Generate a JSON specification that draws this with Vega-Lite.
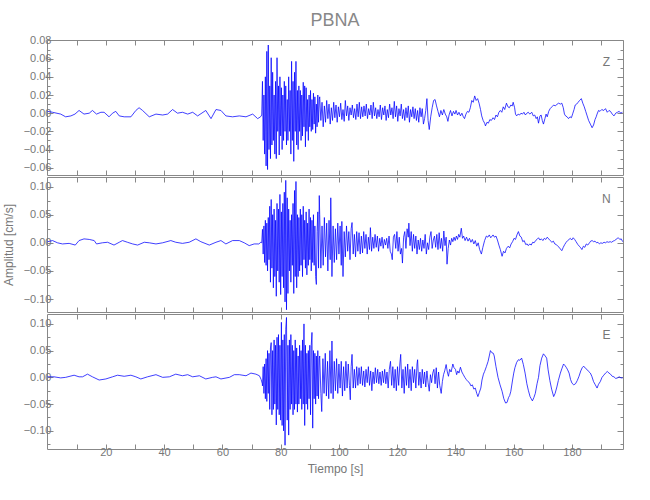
{
"$schema":"https://vega.github.io/schema/vega-lite/v6.json",
"padding":{"left":1,"top":11,"right":5,"bottom":5},
"background":"white",
"spacing":0,
"config":{"view":{"stroke":"#888"},"axis":{"domain":false,"grid":false,"labelColor":"#777","labelFont":"Liberation Sans","labelFontSize":11,"tickColor":"#888","titleColor":"#777","titleFont":"Liberation Sans","titleFontSize":12,"titleFontWeight":"normal","labelPadding":2,"labelOverlap":false,"labelFlush":false}},
"datasets":{
"z":[{"t":0,"v":0.002},{"t":1.7,"v":0.001},{"t":4.5,"v":-0.001},{"t":6.2,"v":-0.004},{"t":8.0,"v":-0.003},{"t":9.4,"v":-0.001},{"t":10.8,"v":0.003},{"t":12.5,"v":-0.001},{"t":14.3,"v":0.0},{"t":15.4,"v":0.003},{"t":16.8,"v":-0.001},{"t":18.3,"v":0.001},{"t":19.4,"v":0.001},{"t":21.1,"v":-0.004},{"t":22.3,"v":0.0},{"t":23.4,"v":0.002},{"t":24.6,"v":-0.003},{"t":26.3,"v":-0.004},{"t":28.6,"v":-0.004},{"t":30.3,"v":0.003},{"t":31.4,"v":0.006},{"t":32.6,"v":0.003},{"t":34.9,"v":-0.004},{"t":37.2,"v":-0.001},{"t":39.5,"v":-0.002},{"t":41.2,"v":-0.001},{"t":42.9,"v":0.004},{"t":44.6,"v":0.0},{"t":46.3,"v":0.001},{"t":48.1,"v":-0.001},{"t":49.8,"v":0.001},{"t":51.5,"v":-0.003},{"t":54.3,"v":0.003},{"t":56.1,"v":-0.006},{"t":57.8,"v":0.004},{"t":59.5,"v":0.003},{"t":61.2,"v":-0.003},{"t":63.5,"v":-0.004},{"t":65.8,"v":-0.003},{"t":68.1,"v":-0.004},{"t":70.4,"v":-0.001},{"t":72.1,"v":-0.006},{"t":73.1,"v":-0.004},
{"t":73.5,"v":-0.002},{"t":73.75,"v":0.035},{"t":74.0,"v":-0.03},{"t":74.25,"v":0.02},{"t":74.5,"v":-0.045},{"t":74.75,"v":0.04},{"t":75.0,"v":-0.058},{"t":75.25,"v":0.068},{"t":75.5,"v":-0.062},{"t":75.75,"v":0.075},{"t":76.0,"v":-0.04},{"t":76.25,"v":0.03},{"t":76.5,"v":-0.05},{"t":76.75,"v":0.061},{"t":77.0,"v":-0.035},{"t":77.25,"v":0.045},{"t":77.5,"v":-0.03},{"t":77.75,"v":0.02},{"t":78.0,"v":-0.045},{"t":78.25,"v":0.035},{"t":78.5,"v":-0.05},{"t":78.75,"v":0.061},{"t":79.0,"v":-0.02},{"t":79.25,"v":0.03},{"t":79.5,"v":-0.046},{"t":79.75,"v":0.04},{"t":80.0,"v":-0.025},{"t":80.25,"v":0.028},{"t":80.5,"v":-0.04},{"t":80.75,"v":0.02},{"t":81.0,"v":-0.03},{"t":81.25,"v":0.035},{"t":81.5,"v":-0.02},{"t":81.75,"v":0.03},{"t":82.0,"v":-0.035},{"t":82.25,"v":0.015},{"t":82.5,"v":-0.03},{"t":82.75,"v":0.04},{"t":83.0,"v":-0.02},{"t":83.25,"v":0.025},{"t":83.5,"v":-0.045},{"t":83.75,"v":0.057},{"t":84.0,"v":-0.03},{"t":84.25,"v":0.035},{"t":84.5,"v":-0.053},{"t":84.75,"v":0.045},{"t":85.0,"v":-0.02},{"t":85.25,"v":0.057},{"t":85.5,"v":-0.035},{"t":85.75,"v":0.025},{"t":86.0,"v":-0.04},{"t":86.25,"v":0.03},{"t":86.5,"v":-0.02},{"t":86.75,"v":0.025},{"t":87.0,"v":-0.03},{"t":87.25,"v":0.02},{"t":87.5,"v":-0.025},{"t":87.75,"v":0.034},{"t":88.0,"v":-0.015},{"t":88.25,"v":0.03},{"t":88.5,"v":-0.037},{"t":88.75,"v":0.028},{"t":89.0,"v":-0.02},{"t":89.25,"v":0.015},{"t":89.5,"v":-0.03},{"t":89.75,"v":0.02},{"t":90.0,"v":-0.015},{"t":90.25,"v":0.025},{"t":90.5,"v":-0.02},{"t":90.75,"v":0.015},{"t":91.0,"v":-0.018},{"t":91.25,"v":0.022},{"t":91.5,"v":-0.012},{"t":91.75,"v":0.018},{"t":92.0,"v":-0.022},{"t":92.25,"v":0.01},{"t":92.5,"v":-0.015},{"t":92.75,"v":0.02},{"t":93.0,"v":-0.01},{"t":93.25,"v":0.015},
{"t":93.4,"v":0.018},{"t":93.8,"v":-0.008},{"t":94.2,"v":0.012},{"t":94.6,"v":-0.015},{"t":95.0,"v":0.008},{"t":95.4,"v":-0.01},{"t":95.8,"v":0.014},{"t":96.2,"v":-0.006},{"t":96.6,"v":0.01},{"t":97.0,"v":-0.012},{"t":97.4,"v":0.006},{"t":97.8,"v":-0.008},{"t":98.2,"v":0.012},{"t":98.6,"v":-0.005},{"t":99.0,"v":0.009},{"t":99.4,"v":-0.01},{"t":99.8,"v":0.007},{"t":100.2,"v":-0.004},{"t":100.6,"v":0.011},{"t":101.0,"v":-0.007},{"t":101.4,"v":0.004},{"t":101.8,"v":-0.009},{"t":102.2,"v":0.014},{"t":102.6,"v":-0.003},{"t":103.0,"v":0.008},{"t":103.4,"v":-0.008},{"t":103.8,"v":0.006},{"t":104.2,"v":-0.002},{"t":104.6,"v":0.009},{"t":105.0,"v":-0.005},{"t":105.4,"v":0.005},{"t":105.8,"v":-0.007},{"t":106.2,"v":0.01},{"t":106.6,"v":-0.004},{"t":107.0,"v":0.012},{"t":107.4,"v":-0.006},{"t":107.8,"v":0.007},{"t":108.2,"v":-0.004},{"t":108.6,"v":0.008},{"t":109.0,"v":-0.003},{"t":109.4,"v":0.01},{"t":109.8,"v":-0.006},{"t":110.2,"v":0.005},{"t":110.6,"v":-0.002},{"t":111.0,"v":0.009},{"t":111.4,"v":-0.006},{"t":111.8,"v":0.012},{"t":112.2,"v":-0.003},{"t":112.6,"v":0.006},{"t":113.0,"v":-0.006},{"t":113.4,"v":0.004},{"t":113.8,"v":-0.004},{"t":114.2,"v":0.009},{"t":114.6,"v":-0.007},{"t":115.0,"v":0.006},{"t":115.4,"v":-0.002},{"t":115.8,"v":0.008},{"t":116.2,"v":-0.008},{"t":116.6,"v":0.004},{"t":117.0,"v":-0.005},{"t":117.4,"v":0.01},{"t":117.8,"v":-0.002},{"t":118.2,"v":0.006},{"t":118.6,"v":-0.006},{"t":119.0,"v":0.013},{"t":119.4,"v":-0.004},{"t":119.8,"v":0.008},{"t":120.2,"v":-0.009},{"t":120.6,"v":0.005},{"t":121.0,"v":-0.003},{"t":121.4,"v":0.01},{"t":121.8,"v":-0.006},{"t":122.2,"v":0.004},{"t":122.6,"v":-0.008},{"t":123.0,"v":0.006},{"t":123.4,"v":-0.005},{"t":123.8,"v":0.008},{"t":124.2,"v":-0.01},{"t":124.6,"v":0.004},{"t":125.0,"v":-0.004},{"t":125.4,"v":0.007},{"t":125.8,"v":-0.006},{"t":126.2,"v":0.005},{"t":126.6,"v":-0.008},{"t":127.0,"v":0.003},{"t":127.4,"v":-0.01},{"t":127.8,"v":0.006},{"t":128.2,"v":-0.004},{"t":128.6,"v":0.005},{"t":129.0,"v":-0.012},{"t":129.4,"v":-0.006},{"t":129.8,"v":0.003},{"t":130.2,"v":0.016},{"t":130.6,"v":-0.008},{"t":131.0,"v":-0.018},{"t":131.5,"v":-0.004},{"t":132.0,"v":0.006},{"t":132.5,"v":0.014},{"t":133.0,"v":0.015},{"t":133.5,"v":0.008},{"t":134.0,"v":0.002},{"t":134.5,"v":-0.004},{"t":135.0,"v":0.003},{"t":135.5,"v":-0.002},{"t":136.0,"v":0.004},{"t":136.5,"v":-0.001},{"t":137.0,"v":-0.004},{"t":137.4,"v":-0.009},{"t":137.8,"v":-0.002},{"t":138.3,"v":0.003},{"t":138.8,"v":-0.003},{"t":139.3,"v":0.002},{"t":139.8,"v":-0.001},{"t":140.2,"v":0.003},{"t":140.7,"v":-0.002},{"t":141.2,"v":0.001},{"t":141.7,"v":-0.003},{"t":142.2,"v":0.0},{"t":142.7,"v":-0.004},{"t":143.1,"v":-0.006},{"t":143.6,"v":-0.001},{"t":144.1,"v":0.002},{"t":144.6,"v":0.001},{"t":145.1,"v":0.006},{"t":145.6,"v":0.014},{"t":146.1,"v":0.012},{"t":146.6,"v":0.019},{"t":147.1,"v":0.014},{"t":147.6,"v":0.016},{"t":148.1,"v":0.011},{"t":148.6,"v":0.004},{"t":149.0,"v":-0.003},{"t":149.5,"v":-0.008},{"t":150.0,"v":-0.011},{"t":150.3,"v":-0.014},{"t":150.8,"v":-0.01},{"t":151.3,"v":-0.011},{"t":151.8,"v":-0.007},{"t":152.3,"v":-0.008},{"t":152.9,"v":-0.005},{"t":153.4,"v":-0.007},{"t":153.9,"v":-0.002},{"t":154.4,"v":-0.004},{"t":154.9,"v":0.001},{"t":155.4,"v":0.003},{"t":155.9,"v":0.001},{"t":156.4,"v":0.007},{"t":156.9,"v":0.004},{"t":157.5,"v":0.011},{"t":158.0,"v":0.007},{"t":158.5,"v":0.006},{"t":159.0,"v":0.009},{"t":159.5,"v":0.008},{"t":159.8,"v":0.012},{"t":160.3,"v":0.006},{"t":160.6,"v":-0.001},{"t":161.0,"v":-0.003},{"t":161.5,"v":-0.001},{"t":162.0,"v":-0.002},{"t":162.5,"v":0.0},{"t":163.0,"v":-0.001},{"t":163.5,"v":0.001},{"t":164.0,"v":-0.002},{"t":164.5,"v":0.0},{"t":165.0,"v":0.001},{"t":165.5,"v":-0.001},{"t":166.2,"v":0.001},{"t":166.7,"v":-0.003},{"t":167.2,"v":-0.002},{"t":167.7,"v":-0.006},{"t":168.1,"v":-0.004},{"t":168.5,"v":-0.011},{"t":169.0,"v":-0.003},{"t":169.4,"v":-0.002},{"t":169.8,"v":-0.008},{"t":170.2,"v":-0.012},{"t":170.7,"v":-0.006},{"t":171.1,"v":-0.001},{"t":171.5,"v":-0.004},{"t":172.0,"v":0.002},{"t":172.5,"v":0.005},{"t":173.1,"v":0.007},{"t":173.7,"v":0.009},{"t":174.3,"v":0.008},{"t":174.9,"v":0.01},{"t":175.4,"v":0.011},{"t":176.0,"v":0.01},{"t":176.5,"v":0.011},{"t":177.0,"v":0.006},{"t":177.4,"v":-0.001},{"t":177.8,"v":-0.003},{"t":178.3,"v":-0.004},{"t":178.8,"v":-0.006},{"t":179.3,"v":-0.004},{"t":179.8,"v":-0.005},{"t":180.3,"v":0.0},{"t":180.7,"v":0.004},{"t":181.1,"v":0.009},{"t":181.6,"v":0.01},{"t":182.1,"v":0.012},{"t":182.6,"v":0.014},{"t":183.2,"v":0.016},{"t":183.7,"v":0.011},{"t":184.2,"v":0.007},{"t":184.7,"v":0.002},{"t":185.2,"v":-0.003},{"t":185.7,"v":-0.008},{"t":186.3,"v":-0.012},{"t":186.9,"v":-0.016},{"t":187.4,"v":-0.013},{"t":187.9,"v":-0.007},{"t":188.3,"v":-0.004},{"t":188.6,"v":-0.001},{"t":189.1,"v":0.003},{"t":189.6,"v":0.002},{"t":190.2,"v":0.004},{"t":190.9,"v":0.003},{"t":191.5,"v":0.005},{"t":192.1,"v":0.001},{"t":192.7,"v":0.003},{"t":193.2,"v":0.002},{"t":193.8,"v":-0.001},{"t":194.4,"v":-0.003},{"t":195.0,"v":0.0},{"t":195.6,"v":0.001},{"t":196.2,"v":0.002},{"t":196.7,"v":0.0},{"t":197.3,"v":0.001}],
"n":[{"t":0,"v":0.002},{"t":1.7,"v":0.004},{"t":3.4,"v":0.0},{"t":5.1,"v":-0.002},{"t":7.4,"v":-0.001},{"t":9.5,"v":-0.004},{"t":10.8,"v":0.004},{"t":12.5,"v":0.007},{"t":14.3,"v":0.006},{"t":16.0,"v":0.004},{"t":16.8,"v":-0.002},{"t":18.8,"v":0.0},{"t":20.6,"v":0.001},{"t":22.8,"v":-0.004},{"t":24.6,"v":0.001},{"t":25.7,"v":0.004},{"t":27.4,"v":0.001},{"t":29.2,"v":-0.002},{"t":30.9,"v":-0.004},{"t":33.2,"v":0.001},{"t":34.9,"v":0.0},{"t":37.2,"v":-0.002},{"t":39.5,"v":0.0},{"t":42.3,"v":0.004},{"t":44.0,"v":0.001},{"t":46.3,"v":-0.001},{"t":48.6,"v":0.001},{"t":50.9,"v":0.007},{"t":52.6,"v":0.002},{"t":55.5,"v":-0.004},{"t":57.8,"v":0.001},{"t":59.5,"v":0.004},{"t":61.2,"v":-0.002},{"t":63.5,"v":0.004},{"t":65.8,"v":0.004},{"t":67.5,"v":0.0},{"t":69.2,"v":-0.005},{"t":70.9,"v":-0.002},{"t":72.5,"v":-0.002},{"t":73.2,"v":0.001},
{"t":73.5,"v":0.0},{"t":73.75,"v":0.024},{"t":74.0,"v":-0.02},{"t":74.25,"v":0.03},{"t":74.5,"v":-0.035},{"t":74.75,"v":0.04},{"t":75.0,"v":-0.04},{"t":75.25,"v":0.035},{"t":75.5,"v":-0.05},{"t":75.75,"v":0.045},{"t":76.0,"v":-0.03},{"t":76.25,"v":0.065},{"t":76.5,"v":-0.07},{"t":76.75,"v":0.077},{"t":77.0,"v":-0.045},{"t":77.25,"v":0.05},{"t":77.5,"v":-0.08},{"t":77.75,"v":0.06},{"t":78.0,"v":-0.06},{"t":78.25,"v":0.04},{"t":78.5,"v":-0.095},{"t":78.75,"v":0.07},{"t":79.0,"v":-0.05},{"t":79.25,"v":0.06},{"t":79.5,"v":-0.07},{"t":79.75,"v":0.086},{"t":80.0,"v":-0.092},{"t":80.25,"v":0.055},{"t":80.5,"v":-0.06},{"t":80.75,"v":0.07},{"t":81.0,"v":-0.08},{"t":81.25,"v":0.09},{"t":81.5,"v":-0.105},{"t":81.75,"v":0.111},{"t":82.0,"v":-0.119},{"t":82.25,"v":0.08},{"t":82.5,"v":-0.09},{"t":82.75,"v":0.06},{"t":83.0,"v":-0.05},{"t":83.25,"v":0.04},{"t":83.5,"v":-0.07},{"t":83.75,"v":0.05},{"t":84.0,"v":-0.04},{"t":84.25,"v":0.07},{"t":84.5,"v":-0.09},{"t":84.75,"v":0.093},{"t":85.0,"v":-0.06},{"t":85.25,"v":0.109},{"t":85.5,"v":-0.08},{"t":85.75,"v":0.05},{"t":86.0,"v":-0.06},{"t":86.25,"v":0.045},{"t":86.5,"v":-0.05},{"t":86.75,"v":0.06},{"t":87.0,"v":-0.04},{"t":87.25,"v":0.05},{"t":87.5,"v":-0.06},{"t":87.75,"v":0.065},{"t":88.0,"v":-0.03},{"t":88.25,"v":0.04},{"t":88.5,"v":-0.045},{"t":88.75,"v":0.055},{"t":89.0,"v":-0.057},{"t":89.25,"v":0.035},{"t":89.5,"v":-0.04},{"t":89.75,"v":0.06},{"t":90.0,"v":-0.03},{"t":90.25,"v":0.045},{"t":90.5,"v":-0.05},{"t":90.75,"v":0.04},{"t":91.0,"v":-0.035},{"t":91.25,"v":0.05},{"t":91.5,"v":-0.04},{"t":91.75,"v":0.03},{"t":92.0,"v":-0.06},{"t":92.25,"v":-0.074},{"t":92.5,"v":0.02},{"t":92.75,"v":0.055},{"t":93.0,"v":-0.045},{"t":93.25,"v":0.084},
{"t":93.4,"v":0.05},{"t":93.8,"v":-0.045},{"t":94.2,"v":0.03},{"t":94.6,"v":-0.04},{"t":95.0,"v":0.045},{"t":95.4,"v":-0.025},{"t":95.8,"v":0.035},{"t":96.2,"v":-0.05},{"t":96.6,"v":0.04},{"t":97.0,"v":-0.03},{"t":97.2,"v":0.08},{"t":97.6,"v":-0.06},{"t":98.0,"v":0.03},{"t":98.4,"v":-0.035},{"t":98.8,"v":0.025},{"t":99.2,"v":-0.03},{"t":99.6,"v":0.035},{"t":100.0,"v":-0.02},{"t":100.4,"v":0.03},{"t":100.8,"v":-0.04},{"t":101.0,"v":0.038},{"t":101.4,"v":-0.06},{"t":101.8,"v":0.02},{"t":102.2,"v":-0.025},{"t":102.6,"v":0.03},{"t":103.0,"v":-0.015},{"t":103.4,"v":0.02},{"t":103.8,"v":-0.03},{"t":104.2,"v":0.025},{"t":104.5,"v":0.036},{"t":104.9,"v":-0.02},{"t":105.3,"v":0.015},{"t":105.7,"v":-0.025},{"t":106.1,"v":0.02},{"t":106.5,"v":-0.015},{"t":106.9,"v":0.018},{"t":107.3,"v":-0.02},{"t":107.7,"v":0.012},{"t":108.1,"v":-0.018},{"t":108.5,"v":0.02},{"t":108.9,"v":-0.01},{"t":109.3,"v":0.015},{"t":109.7,"v":-0.02},{"t":110.1,"v":0.01},{"t":110.5,"v":-0.012},{"t":110.8,"v":0.027},{"t":111.2,"v":-0.015},{"t":111.6,"v":0.01},{"t":112.0,"v":-0.01},{"t":112.4,"v":0.015},{"t":112.8,"v":-0.008},{"t":113.2,"v":0.012},{"t":113.6,"v":-0.015},{"t":114.0,"v":0.008},{"t":114.4,"v":-0.006},{"t":114.8,"v":0.01},{"t":115.2,"v":-0.01},{"t":115.6,"v":0.006},{"t":116.0,"v":-0.004},{"t":116.4,"v":0.008},{"t":116.8,"v":-0.01},{"t":117.2,"v":0.012},{"t":117.6,"v":-0.015},{"t":118.0,"v":-0.02},{"t":118.3,"v":-0.03},{"t":118.7,"v":0.01},{"t":119.1,"v":0.015},{"t":119.5,"v":-0.01},{"t":119.9,"v":0.02},{"t":120.3,"v":-0.015},{"t":120.7,"v":0.01},{"t":121.1,"v":-0.02},{"t":121.5,"v":-0.01},{"t":121.8,"v":-0.036},{"t":122.2,"v":0.01},{"t":122.6,"v":0.02},{"t":123.0,"v":-0.01},{"t":123.4,"v":0.025},{"t":123.8,"v":0.01},{"t":124.0,"v":0.035},{"t":124.4,"v":-0.005},{"t":124.8,"v":0.02},{"t":125.2,"v":-0.015},{"t":125.6,"v":0.015},{"t":126.0,"v":-0.01},{"t":126.4,"v":0.012},{"t":126.8,"v":-0.02},{"t":127.2,"v":0.005},{"t":127.6,"v":-0.012},{"t":128.0,"v":0.008},{"t":128.4,"v":-0.015},{"t":128.8,"v":0.005},{"t":129.2,"v":-0.01},{"t":129.6,"v":0.015},{"t":130.0,"v":-0.02},{"t":130.4,"v":0.0},{"t":130.8,"v":-0.012},{"t":131.2,"v":0.01},{"t":131.6,"v":0.02},{"t":132.0,"v":-0.01},{"t":132.4,"v":0.005},{"t":132.8,"v":0.012},{"t":133.2,"v":-0.008},{"t":133.6,"v":0.015},{"t":134.0,"v":-0.012},{"t":134.4,"v":0.018},{"t":134.8,"v":-0.01},{"t":135.2,"v":0.008},{"t":135.6,"v":-0.015},{"t":136.0,"v":0.021},{"t":136.4,"v":-0.005},{"t":136.8,"v":0.01},{"t":137.1,"v":-0.038},{"t":137.5,"v":-0.01},{"t":137.9,"v":0.005},{"t":138.3,"v":-0.004},{"t":138.7,"v":0.008},{"t":139.1,"v":0.002},{"t":139.5,"v":0.01},{"t":139.9,"v":0.004},{"t":140.3,"v":0.012},{"t":140.7,"v":0.006},{"t":141.1,"v":0.015},{"t":141.5,"v":0.01},{"t":142.0,"v":0.026},{"t":142.4,"v":0.008},{"t":142.8,"v":0.012},{"t":143.3,"v":0.004},{"t":143.8,"v":0.01},{"t":144.3,"v":0.003},{"t":144.8,"v":0.008},{"t":145.3,"v":0.001},{"t":145.8,"v":0.006},{"t":146.3,"v":-0.002},{"t":146.8,"v":0.004},{"t":147.3,"v":-0.006},{"t":147.8,"v":0.0},{"t":148.3,"v":-0.012},{"t":148.9,"v":-0.02},{"t":149.4,"v":-0.008},{"t":150.0,"v":0.004},{"t":150.6,"v":0.012},{"t":151.1,"v":0.01},{"t":151.6,"v":0.014},{"t":152.1,"v":0.009},{"t":152.9,"v":0.014},{"t":153.4,"v":0.01},{"t":153.9,"v":0.012},{"t":154.4,"v":0.005},{"t":154.9,"v":-0.004},{"t":155.4,"v":-0.012},{"t":156.0,"v":-0.024},{"t":156.5,"v":-0.015},{"t":157.0,"v":-0.018},{"t":157.5,"v":-0.01},{"t":158.1,"v":-0.006},{"t":158.6,"v":-0.009},{"t":159.1,"v":-0.002},{"t":159.6,"v":0.002},{"t":160.1,"v":0.008},{"t":160.6,"v":0.006},{"t":161.1,"v":0.014},{"t":161.6,"v":0.02},{"t":162.1,"v":0.012},{"t":162.6,"v":0.01},{"t":163.1,"v":0.002},{"t":163.6,"v":0.004},{"t":164.1,"v":-0.003},{"t":164.6,"v":-0.002},{"t":165.0,"v":-0.005},{"t":165.5,"v":-0.002},{"t":166.0,"v":-0.004},{"t":166.5,"v":0.001},{"t":167.0,"v":0.0},{"t":167.5,"v":0.004},{"t":168.0,"v":0.006},{"t":168.5,"v":0.009},{"t":169.0,"v":0.005},{"t":169.5,"v":0.007},{"t":170.0,"v":0.004},{"t":170.5,"v":0.008},{"t":171.0,"v":0.006},{"t":171.5,"v":0.01},{"t":172.0,"v":0.007},{"t":172.5,"v":0.004},{"t":173.1,"v":0.001},{"t":173.6,"v":0.003},{"t":174.1,"v":-0.002},{"t":174.6,"v":-0.003},{"t":175.1,"v":-0.006},{"t":175.6,"v":-0.008},{"t":176.0,"v":-0.011},{"t":176.5,"v":-0.014},{"t":177.0,"v":-0.008},{"t":177.5,"v":-0.003},{"t":178.0,"v":0.001},{"t":178.5,"v":0.004},{"t":179.0,"v":0.006},{"t":179.4,"v":0.008},{"t":179.9,"v":0.005},{"t":180.4,"v":0.009},{"t":180.9,"v":0.006},{"t":181.4,"v":0.002},{"t":182.0,"v":-0.003},{"t":182.5,"v":-0.006},{"t":183.0,"v":-0.009},{"t":183.4,"v":-0.012},{"t":183.9,"v":-0.006},{"t":184.4,"v":-0.008},{"t":184.9,"v":-0.002},{"t":185.4,"v":-0.004},{"t":186.0,"v":0.0},{"t":186.4,"v":0.003},{"t":186.9,"v":0.004},{"t":187.4,"v":0.002},{"t":187.9,"v":0.003},{"t":188.4,"v":0.0},{"t":188.9,"v":0.001},{"t":189.4,"v":-0.002},{"t":189.9,"v":0.0},{"t":190.4,"v":-0.001},{"t":191.0,"v":0.001},{"t":191.5,"v":0.0},{"t":192.0,"v":0.002},{"t":192.5,"v":0.001},{"t":193.1,"v":0.002},{"t":193.6,"v":0.001},{"t":194.1,"v":0.003},{"t":194.6,"v":0.004},{"t":195.1,"v":0.006},{"t":195.6,"v":0.008},{"t":195.9,"v":0.009},{"t":196.4,"v":0.006},{"t":196.9,"v":0.007},{"t":197.4,"v":0.002}],
"e":[{"t":0,"v":0.001},{"t":2.2,"v":0.001},{"t":4.5,"v":-0.001},{"t":6.2,"v":0.0},{"t":9.1,"v":0.004},{"t":10.8,"v":0.001},{"t":12.0,"v":0.001},{"t":13.7,"v":0.006},{"t":15.4,"v":0.001},{"t":17.7,"v":-0.005},{"t":20.0,"v":-0.003},{"t":22.3,"v":0.001},{"t":24.0,"v":0.004},{"t":26.3,"v":0.002},{"t":28.6,"v":0.004},{"t":30.3,"v":0.001},{"t":32.0,"v":-0.003},{"t":34.3,"v":0.001},{"t":37.2,"v":0.005},{"t":39.5,"v":0.0},{"t":41.8,"v":0.001},{"t":44.0,"v":0.006},{"t":46.3,"v":0.003},{"t":48.1,"v":0.005},{"t":49.8,"v":0.001},{"t":52.1,"v":0.003},{"t":54.3,"v":-0.003},{"t":56.6,"v":0.0},{"t":57.8,"v":0.001},{"t":59.5,"v":-0.003},{"t":62.4,"v":0.0},{"t":64.1,"v":0.005},{"t":65.8,"v":0.005},{"t":68.1,"v":0.003},{"t":69.8,"v":0.008},{"t":71.5,"v":0.006},{"t":72.7,"v":0.003},{"t":73.3,"v":-0.004},{"t":73.7,"v":-0.012},
{"t":73.75,"v":-0.016},{"t":74.0,"v":0.02},{"t":74.25,"v":-0.03},{"t":74.5,"v":0.025},{"t":74.75,"v":-0.04},{"t":75.0,"v":0.035},{"t":75.25,"v":-0.045},{"t":75.5,"v":0.05},{"t":75.75,"v":-0.03},{"t":76.0,"v":0.045},{"t":76.25,"v":-0.06},{"t":76.5,"v":0.055},{"t":76.75,"v":0.065},{"t":77.0,"v":-0.07},{"t":77.25,"v":0.05},{"t":77.5,"v":-0.06},{"t":77.75,"v":0.07},{"t":78.0,"v":-0.05},{"t":78.25,"v":0.06},{"t":78.5,"v":-0.089},{"t":78.75,"v":0.075},{"t":79.0,"v":-0.06},{"t":79.25,"v":0.08},{"t":79.5,"v":-0.07},{"t":79.75,"v":0.06},{"t":80.0,"v":-0.08},{"t":80.25,"v":0.103},{"t":80.5,"v":-0.09},{"t":80.75,"v":0.07},{"t":81.0,"v":-0.1},{"t":81.25,"v":0.08},{"t":81.5,"v":-0.127},{"t":81.75,"v":0.09},{"t":82.0,"v":0.112},{"t":82.25,"v":-0.08},{"t":82.5,"v":0.06},{"t":82.75,"v":-0.108},{"t":83.0,"v":0.07},{"t":83.25,"v":-0.06},{"t":83.5,"v":0.08},{"t":83.75,"v":-0.05},{"t":84.0,"v":0.06},{"t":84.25,"v":-0.07},{"t":84.5,"v":0.05},{"t":84.75,"v":-0.06},{"t":85.0,"v":0.07},{"t":85.25,"v":-0.05},{"t":85.5,"v":0.055},{"t":85.75,"v":-0.065},{"t":86.0,"v":0.04},{"t":86.25,"v":-0.05},{"t":86.5,"v":0.06},{"t":86.75,"v":-0.04},{"t":87.0,"v":0.05},{"t":87.25,"v":-0.06},{"t":87.5,"v":0.07},{"t":87.75,"v":-0.05},{"t":88.0,"v":0.1},{"t":88.25,"v":-0.09},{"t":88.5,"v":0.06},{"t":88.75,"v":-0.05},{"t":89.0,"v":0.045},{"t":89.25,"v":-0.06},{"t":89.5,"v":0.05},{"t":89.75,"v":-0.04},{"t":90.0,"v":0.06},{"t":90.25,"v":-0.07},{"t":90.5,"v":0.06},{"t":90.75,"v":0.084},{"t":91.0,"v":-0.095},{"t":91.25,"v":0.05},{"t":91.5,"v":-0.04},{"t":91.75,"v":0.045},{"t":92.0,"v":-0.05},{"t":92.25,"v":0.04},{"t":92.5,"v":-0.035},{"t":92.75,"v":0.05},{"t":93.0,"v":-0.04},{"t":93.25,"v":0.035},
{"t":93.4,"v":0.04},{"t":93.8,"v":-0.03},{"t":94.1,"v":-0.064},{"t":94.5,"v":0.035},{"t":94.9,"v":-0.03},{"t":95.3,"v":0.045},{"t":95.7,"v":-0.035},{"t":96.1,"v":0.03},{"t":96.5,"v":-0.04},{"t":96.9,"v":0.05},{"t":97.3,"v":-0.03},{"t":97.6,"v":0.068},{"t":98.0,"v":-0.04},{"t":98.4,"v":0.03},{"t":98.8,"v":-0.025},{"t":99.2,"v":0.035},{"t":99.6,"v":-0.03},{"t":100.0,"v":0.025},{"t":100.4,"v":-0.02},{"t":100.8,"v":0.03},{"t":101.2,"v":-0.035},{"t":101.6,"v":0.02},{"t":102.0,"v":-0.025},{"t":102.4,"v":0.03},{"t":102.8,"v":-0.02},{"t":103.2,"v":0.025},{"t":103.6,"v":-0.015},{"t":103.9,"v":-0.042},{"t":104.2,"v":0.02},{"t":104.5,"v":0.043},{"t":104.9,"v":-0.02},{"t":105.3,"v":0.015},{"t":105.7,"v":-0.02},{"t":106.1,"v":0.02},{"t":106.5,"v":-0.015},{"t":106.9,"v":0.018},{"t":107.3,"v":-0.012},{"t":107.7,"v":0.02},{"t":108.1,"v":-0.015},{"t":108.5,"v":0.012},{"t":108.9,"v":-0.018},{"t":109.3,"v":0.015},{"t":109.7,"v":-0.01},{"t":110.1,"v":0.02},{"t":110.5,"v":-0.015},{"t":110.9,"v":0.012},{"t":111.3,"v":-0.025},{"t":111.7,"v":0.01},{"t":112.1,"v":-0.012},{"t":112.5,"v":0.018},{"t":112.9,"v":-0.01},{"t":113.3,"v":0.015},{"t":113.7,"v":-0.012},{"t":114.1,"v":0.01},{"t":114.5,"v":-0.015},{"t":114.9,"v":0.012},{"t":115.3,"v":-0.01},{"t":115.7,"v":0.015},{"t":116.1,"v":-0.012},{"t":116.5,"v":0.01},{"t":116.9,"v":-0.02},{"t":117.3,"v":0.015},{"t":117.7,"v":0.03},{"t":118.1,"v":-0.015},{"t":118.5,"v":0.02},{"t":118.9,"v":-0.02},{"t":119.3,"v":0.015},{"t":119.7,"v":-0.025},{"t":120.1,"v":0.02},{"t":120.5,"v":-0.015},{"t":120.9,"v":0.025},{"t":121.2,"v":0.043},{"t":121.6,"v":-0.02},{"t":122.0,"v":0.015},{"t":122.4,"v":-0.03},{"t":122.8,"v":0.02},{"t":123.2,"v":-0.015},{"t":123.6,"v":0.025},{"t":124.0,"v":-0.02},{"t":124.4,"v":0.015},{"t":124.8,"v":-0.025},{"t":125.2,"v":0.02},{"t":125.6,"v":-0.01},{"t":126.0,"v":0.015},{"t":126.4,"v":-0.02},{"t":126.8,"v":0.025},{"t":127.0,"v":0.033},{"t":127.4,"v":-0.015},{"t":127.8,"v":0.01},{"t":128.2,"v":-0.02},{"t":128.6,"v":0.015},{"t":129.0,"v":-0.012},{"t":129.4,"v":0.01},{"t":129.8,"v":-0.018},{"t":130.2,"v":0.012},{"t":130.6,"v":-0.01},{"t":131.0,"v":-0.026},{"t":131.4,"v":0.005},{"t":131.8,"v":-0.01},{"t":132.2,"v":0.008},{"t":132.6,"v":0.015},{"t":133.0,"v":-0.012},{"t":133.4,"v":0.018},{"t":133.8,"v":-0.02},{"t":134.2,"v":0.01},{"t":134.6,"v":-0.015},{"t":135.1,"v":-0.03},{"t":135.5,"v":-0.008},{"t":135.9,"v":0.005},{"t":136.3,"v":0.012},{"t":136.8,"v":0.024},{"t":137.2,"v":0.01},{"t":137.6,"v":0.002},{"t":138.0,"v":0.015},{"t":138.5,"v":0.01},{"t":139.1,"v":0.025},{"t":139.5,"v":0.018},{"t":140.0,"v":0.015},{"t":140.4,"v":0.005},{"t":140.8,"v":0.012},{"t":141.2,"v":0.008},{"t":141.7,"v":0.019},{"t":142.2,"v":0.01},{"t":142.7,"v":0.005},{"t":143.2,"v":0.0},{"t":143.7,"v":-0.004},{"t":144.3,"v":-0.008},{"t":144.8,"v":-0.01},{"t":145.3,"v":-0.016},{"t":145.8,"v":-0.014},{"t":146.3,"v":-0.022},{"t":146.8,"v":-0.02},{"t":147.3,"v":-0.03},{"t":147.7,"v":-0.036},{"t":148.2,"v":-0.028},{"t":148.7,"v":-0.02},{"t":149.1,"v":-0.005},{"t":149.6,"v":0.006},{"t":150.0,"v":0.011},{"t":150.6,"v":0.02},{"t":151.2,"v":0.03},{"t":151.6,"v":0.04},{"t":152.0,"v":0.05},{"t":152.5,"v":0.046},{"t":153.0,"v":0.045},{"t":153.3,"v":0.04},{"t":153.9,"v":0.02},{"t":154.6,"v":0.0},{"t":155.3,"v":-0.014},{"t":156.0,"v":-0.026},{"t":156.6,"v":-0.04},{"t":157.2,"v":-0.048},{"t":157.7,"v":-0.047},{"t":158.2,"v":-0.038},{"t":158.6,"v":-0.034},{"t":159.0,"v":-0.026},{"t":159.6,"v":-0.005},{"t":160.0,"v":0.008},{"t":160.4,"v":0.018},{"t":161.0,"v":0.028},{"t":161.6,"v":0.033},{"t":162.1,"v":0.032},{"t":162.7,"v":0.036},{"t":163.3,"v":0.024},{"t":163.9,"v":0.008},{"t":164.5,"v":-0.012},{"t":165.0,"v":-0.024},{"t":165.6,"v":-0.036},{"t":166.0,"v":-0.04},{"t":166.4,"v":-0.044},{"t":166.9,"v":-0.038},{"t":167.4,"v":-0.03},{"t":168.0,"v":-0.012},{"t":168.5,"v":0.0},{"t":169.0,"v":0.022},{"t":169.6,"v":0.036},{"t":170.2,"v":0.044},{"t":170.8,"v":0.04},{"t":171.3,"v":0.036},{"t":171.8,"v":0.014},{"t":172.4,"v":-0.006},{"t":173.0,"v":-0.022},{"t":173.7,"v":-0.036},{"t":174.2,"v":-0.03},{"t":174.8,"v":-0.018},{"t":175.3,"v":-0.006},{"t":176.0,"v":0.008},{"t":176.5,"v":0.016},{"t":177.1,"v":0.025},{"t":177.6,"v":0.022},{"t":178.1,"v":0.018},{"t":178.5,"v":0.014},{"t":179.0,"v":0.008},{"t":179.5,"v":-0.004},{"t":180.0,"v":-0.011},{"t":180.6,"v":-0.014},{"t":181.2,"v":-0.012},{"t":181.8,"v":-0.006},{"t":182.4,"v":0.002},{"t":183.0,"v":0.012},{"t":183.5,"v":0.018},{"t":184.0,"v":0.021},{"t":184.6,"v":0.017},{"t":185.1,"v":0.015},{"t":185.7,"v":0.011},{"t":186.3,"v":0.008},{"t":186.8,"v":0.002},{"t":187.4,"v":-0.008},{"t":188.0,"v":-0.014},{"t":188.6,"v":-0.02},{"t":189.1,"v":-0.013},{"t":189.7,"v":-0.008},{"t":190.3,"v":0.0},{"t":190.9,"v":0.004},{"t":191.5,"v":0.008},{"t":192.1,"v":0.011},{"t":192.7,"v":0.008},{"t":193.2,"v":0.006},{"t":193.8,"v":0.002},{"t":194.4,"v":0.001},{"t":195.0,"v":-0.002},{"t":195.6,"v":-0.001},{"t":196.2,"v":0.001},{"t":196.8,"v":-0.001},{"t":197.4,"v":-0.001}]
},
"vconcat":[
{"width":576,"height":135,
 "title":{"text":"PBNA","fontSize":18,"fontWeight":"normal","color":"#888","font":"Liberation Sans","frame":"group","anchor":"middle","offset":4},
 "layer":[
  {"data":{"name":"z"},"mark":{"type":"line","color":"#0000ff","strokeWidth":0.75},
   "encoding":{
    "x":{"field":"t","type":"quantitative","scale":{"domain":[-0.2,197.5],"nice":false,"zero":false},"axis":{"orient":"bottom","values":[10,20,30,40,50,60,70,80,90,100,110,120,130,140,150,160,170,180,190],"labels":false,"tickSize":-5,"title":null}},
    "y":{"field":"v","type":"quantitative","scale":{"domain":[-0.068,0.0805],"nice":false,"zero":false},"axis":{"orient":"left","values":[-0.06,-0.05,-0.04,-0.03,-0.02,-0.01,0,0.01,0.02,0.03,0.04,0.05,0.06,0.07,0.08],"format":".2f","labelExpr":"abs(round(datum.value*100)%2)==0 ? datum.label : ''","tickSize":{"condition":{"test":"abs(round(datum.value*100)%2)==0","value":-6},"value":-3},"title":null}}}},
  {"data":{"values":[{"t":191.8,"v":0.056,"c":"Z"}]},"mark":{"type":"text","color":"#777","fontSize":12,"font":"Liberation Sans"},
   "encoding":{
    "x":{"field":"t","type":"quantitative","axis":{"orient":"top","values":[10,20,30,40,50,60,70,80,90,100,110,120,130,140,150,160,170,180,190],"labels":false,"tickSize":-5,"title":null}},
    "y":{"field":"v","type":"quantitative","axis":{"orient":"right","values":[-0.06,-0.05,-0.04,-0.03,-0.02,-0.01,0,0.01,0.02,0.03,0.04,0.05,0.06,0.07,0.08],"labels":false,"tickSize":{"condition":{"test":"abs(round(datum.value*100)%2)==0","value":-6},"value":-3},"title":null}},
    "text":{"field":"c"}}}
 ],
 "resolve":{"axis":{"x":"independent","y":"independent"}}
},
{"width":576,"height":135,
 "layer":[
  {"data":{"name":"n"},"mark":{"type":"line","color":"#0000ff","strokeWidth":0.75},
   "encoding":{
    "x":{"field":"t","type":"quantitative","scale":{"domain":[-0.2,197.5],"nice":false,"zero":false},"axis":{"orient":"bottom","values":[10,20,30,40,50,60,70,80,90,100,110,120,130,140,150,160,170,180,190],"labels":false,"tickSize":-5,"title":null}},
    "y":{"field":"v","type":"quantitative","scale":{"domain":[-0.123,0.117],"nice":false,"zero":false},"axis":{"orient":"left","values":[-0.1,-0.075,-0.05,-0.025,0,0.025,0.05,0.075,0.1],"format":".2f","labelExpr":"abs(round(datum.value*1000)%50)==0 ? datum.label : ''","tickSize":{"condition":{"test":"abs(round(datum.value*1000)%50)==0","value":-6},"value":-3},"title":"Amplitud [cm/s]","titlePadding":8}}}},
  {"data":{"values":[{"t":191.8,"v":0.078,"c":"N"}]},"mark":{"type":"text","color":"#777","fontSize":12,"font":"Liberation Sans"},
   "encoding":{
    "x":{"field":"t","type":"quantitative","axis":{"orient":"top","values":[10,20,30,40,50,60,70,80,90,100,110,120,130,140,150,160,170,180,190],"labels":false,"tickSize":-5,"title":null}},
    "y":{"field":"v","type":"quantitative","axis":{"orient":"right","values":[-0.1,-0.075,-0.05,-0.025,0,0.025,0.05,0.075,0.1],"labels":false,"tickSize":{"condition":{"test":"abs(round(datum.value*1000)%50)==0","value":-6},"value":-3},"title":null}},
    "text":{"field":"c"}}}
 ],
 "resolve":{"axis":{"x":"independent","y":"independent"}}
},
{"width":576,"height":135,
 "layer":[
  {"data":{"name":"e"},"mark":{"type":"line","color":"#0000ff","strokeWidth":0.75},
   "encoding":{
    "x":{"field":"t","type":"quantitative","scale":{"domain":[-0.2,197.5],"nice":false,"zero":false},"axis":{"orient":"bottom","values":[10,20,30,40,50,60,70,80,90,100,110,120,130,140,150,160,170,180,190],"labelExpr":"datum.value % 20 == 0 ? datum.label : ''","tickSize":-5,"title":"Tiempo [s]","titlePadding":6}},
    "y":{"field":"v","type":"quantitative","scale":{"domain":[-0.134,0.1185],"nice":false,"zero":false},"axis":{"orient":"left","values":[-0.125,-0.1,-0.075,-0.05,-0.025,0,0.025,0.05,0.075,0.1],"format":".2f","labelExpr":"abs(round(datum.value*1000)%50)==0 ? datum.label : ''","tickSize":{"condition":{"test":"abs(round(datum.value*1000)%50)==0","value":-6},"value":-3},"title":null}}}},
  {"data":{"values":[{"t":191.8,"v":0.079,"c":"E"}]},"mark":{"type":"text","color":"#777","fontSize":12,"font":"Liberation Sans"},
   "encoding":{
    "x":{"field":"t","type":"quantitative","axis":{"orient":"top","values":[10,20,30,40,50,60,70,80,90,100,110,120,130,140,150,160,170,180,190],"labels":false,"tickSize":-5,"title":null}},
    "y":{"field":"v","type":"quantitative","axis":{"orient":"right","values":[-0.125,-0.1,-0.075,-0.05,-0.025,0,0.025,0.05,0.075,0.1],"labels":false,"tickSize":{"condition":{"test":"abs(round(datum.value*1000)%50)==0","value":-6},"value":-3},"title":null}},
    "text":{"field":"c"}}}
 ],
 "resolve":{"axis":{"x":"independent","y":"independent"}}
}
]
}
